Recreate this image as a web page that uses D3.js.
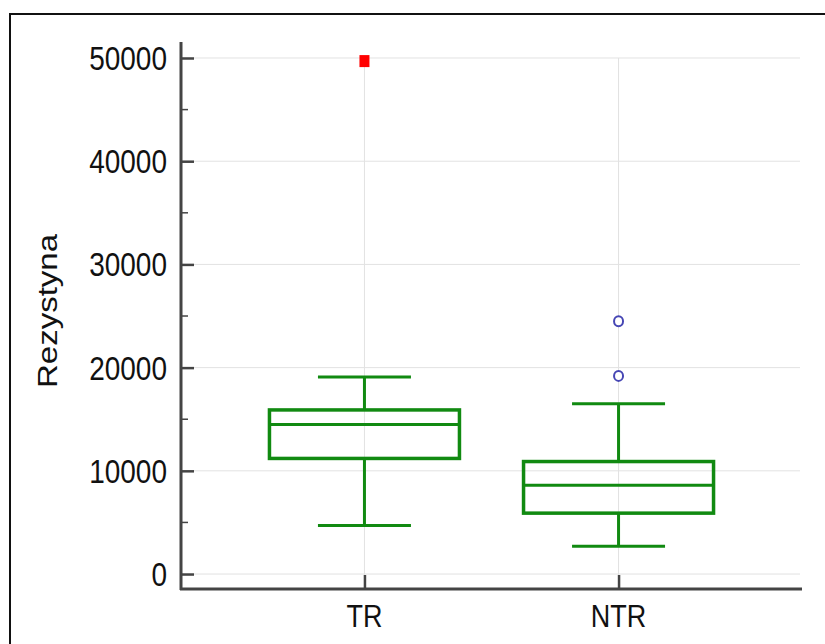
<!DOCTYPE html>
<html>
<head>
<meta charset="utf-8">
<script src="https://cdn.jsdelivr.net/npm/d3@7"></script>
<style>
  body { margin: 0; background: #fff; }
  text { font-family: "Liberation Sans", Arial, sans-serif; fill: #111; }
</style>
</head>
<body>
<svg id="chart" width="825" height="644"></svg>
<script>
// box plot values
let groups = ["TR", "NTR"];
let whiskerLow = [4700, 2700];
let q1 = [11200, 5900];
let median = [14500, 8600];
let q3 = [15900, 10900];
let whiskerHigh = [19100, 16500];
let farOutliers = [[49700], []];
let outliers = [[], [24500, 19200]];
let yTicks = [0, 10000, 20000, 30000, 40000, 50000];
let yMinorTicks = [5000, 15000, 25000, 35000, 45000];
let yLabel = "Rezystyna";

let svg = d3.select('#chart');
let green = "#118a11";
let axisColor = "#444";
let stretch = 1.18;

// frame (cut off on right and bottom like the source image)
svg.append("rect")
    .attr("x", 10).attr("y", 14)
    .attr("width", 900).attr("height", 700)
    .attr("fill", "none")
    .attr("stroke", "#111")
    .attr("stroke-width", 2);

let y = d3.scaleLinear().domain([-1450, 51550]).range([589, 42]);
let x = d3.scalePoint().domain(groups).range([181, 802]).padding(0.722);

let left = 181, right = 800, bottom = 589;

// grid
svg.append("g").selectAll("line")
    .data(yTicks)
    .enter().append("line")
    .attr("x1", left).attr("x2", right)
    .attr("y1", d => y(d)).attr("y2", d => y(d))
    .attr("stroke", "#e2e2e2").attr("stroke-width", 1);

svg.append("g").selectAll("line")
    .data(groups)
    .enter().append("line")
    .attr("x1", d => x(d)).attr("x2", d => x(d))
    .attr("y1", y(50000)).attr("y2", bottom)
    .attr("stroke", "#e2e2e2").attr("stroke-width", 1);

// y axis
let yAxis = svg.append("g").attr("transform", "translate(" + left + ",0)")
    .call(d3.axisRight(y).tickValues(yTicks).tickSize(13).tickFormat(""));
yAxis.select(".domain").remove();
yAxis.selectAll("line").attr("stroke", axisColor).attr("stroke-width", 2.5);

svg.append("g").selectAll("line")
    .data(yMinorTicks)
    .enter().append("line")
    .attr("x1", left).attr("x2", left + 7)
    .attr("y1", d => y(d)).attr("y2", d => y(d))
    .attr("stroke", axisColor).attr("stroke-width", 1.5);

svg.append("g").selectAll("text")
    .data(yTicks)
    .enter().append("text")
    .attr("transform", d => "translate(167," + y(d) + ") scale(1," + stretch + ")")
    .attr("text-anchor", "end")
    .attr("dy", "0.36em")
    .attr("font-size", "28px")
    .text(d => d);

// x axis
let xAxis = svg.append("g").attr("transform", "translate(0," + bottom + ")")
    .call(d3.axisTop(x).tickSize(14).tickFormat(""));
xAxis.select(".domain").remove();
xAxis.selectAll("line").attr("stroke", axisColor).attr("stroke-width", 2.5);

svg.append("g").selectAll("text")
    .data(groups)
    .enter().append("text")
    .attr("transform", d => "translate(" + x(d) + ",627) scale(1," + stretch + ")")
    .attr("text-anchor", "middle")
    .attr("font-size", "27px")
    .text(d => d);

// axis lines
svg.append("line")
    .attr("x1", left).attr("x2", left)
    .attr("y1", 42).attr("y2", bottom + 1)
    .attr("stroke", axisColor).attr("stroke-width", 3);
svg.append("line")
    .attr("x1", left - 1).attr("x2", 802)
    .attr("y1", bottom).attr("y2", bottom)
    .attr("stroke", axisColor).attr("stroke-width", 3);

// y label
svg.append("text")
    .attr("transform", "translate(57,311) scale(1," + stretch + ") rotate(-90)")
    .attr("text-anchor", "middle")
    .attr("font-size", "28px")
    .text(yLabel);

// boxes
let boxW = 190, capW = 93;
let boxes = svg.append("g").selectAll("g")
    .data(groups)
    .enter().append("g");

boxes.append("line")
    .attr("x1", d => x(d)).attr("x2", d => x(d))
    .attr("y1", (d, i) => y(whiskerHigh[i])).attr("y2", (d, i) => y(q3[i]))
    .attr("stroke", green).attr("stroke-width", 3);
boxes.append("line")
    .attr("x1", d => x(d)).attr("x2", d => x(d))
    .attr("y1", (d, i) => y(q1[i])).attr("y2", (d, i) => y(whiskerLow[i]))
    .attr("stroke", green).attr("stroke-width", 3);
boxes.append("line")
    .attr("x1", d => x(d) - capW / 2).attr("x2", d => x(d) + capW / 2)
    .attr("y1", (d, i) => y(whiskerHigh[i])).attr("y2", (d, i) => y(whiskerHigh[i]))
    .attr("stroke", green).attr("stroke-width", 3);
boxes.append("line")
    .attr("x1", d => x(d) - capW / 2).attr("x2", d => x(d) + capW / 2)
    .attr("y1", (d, i) => y(whiskerLow[i])).attr("y2", (d, i) => y(whiskerLow[i]))
    .attr("stroke", green).attr("stroke-width", 3);
boxes.append("rect")
    .attr("x", d => x(d) - boxW / 2)
    .attr("width", boxW)
    .attr("y", (d, i) => y(q3[i]))
    .attr("height", (d, i) => y(q1[i]) - y(q3[i]))
    .attr("fill", "none")
    .attr("stroke", green).attr("stroke-width", 3.5);
boxes.append("line")
    .attr("x1", d => x(d) - boxW / 2).attr("x2", d => x(d) + boxW / 2)
    .attr("y1", (d, i) => y(median[i])).attr("y2", (d, i) => y(median[i]))
    .attr("stroke", green).attr("stroke-width", 3);

// outliers
groups.forEach(function(g, i) {
    svg.append("g").selectAll("rect")
        .data(farOutliers[i])
        .enter().append("rect")
        .attr("x", x(g) - 5).attr("y", d => y(d) - 6)
        .attr("width", 10).attr("height", 12)
        .attr("fill", "#ff0000");
    svg.append("g").selectAll("ellipse")
        .data(outliers[i])
        .enter().append("ellipse")
        .attr("cx", x(g)).attr("cy", d => y(d))
        .attr("rx", 4.5).attr("ry", 5)
        .attr("fill", "#fff")
        .attr("stroke", "#4646b4").attr("stroke-width", 2);
});
</script>
</body>
</html>
